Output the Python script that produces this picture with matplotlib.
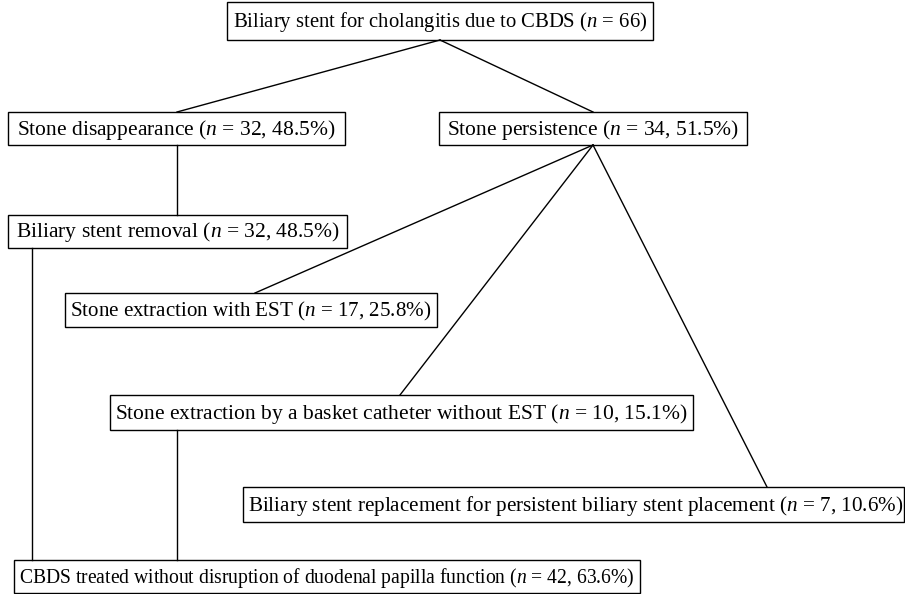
import matplotlib.pyplot as plt
from matplotlib.patches import Rectangle

plt.rcParams['font.family'] = ['Liberation Serif', 'DejaVu Serif']
plt.rcParams['mathtext.fontset'] = 'custom'
plt.rcParams['mathtext.rm'] = 'Liberation Serif'
plt.rcParams['mathtext.it'] = 'Liberation Serif:italic'

# data
labels = [
    "Biliary stent for cholangitis due to CBDS",
    "Stone disappearance",
    "Stone persistence",
    "Biliary stent removal",
    "Stone extraction with EST",
    "Stone extraction by a basket catheter without EST",
    "Biliary stent replacement for persistent biliary stent placement",
    "CBDS treated without disruption of duodenal papilla function",
]
counts = [66, 32, 34, 32, 17, 10, 7, 42]
percents = ["", "48.5%", "51.5%", "48.5%", "25.8%", "15.1%", "10.6%", "63.6%"]
links = [(0, 1), (0, 2), (1, 3), (2, 4), (2, 5), (2, 6)]

# layout (pixels): left, top, right, bottom
boxes = [
    (227, 2, 653, 40),
    (8, 112, 345, 145),
    (439, 112, 747, 145),
    (8, 215, 347, 248),
    (65, 293, 437, 327),
    (110, 395, 693, 430),
    (243, 487, 904, 522),
    (14, 560, 640, 593),
]
# attach points on boxes (x at parent bottom, x at child top)
anchor_top = [440, 177, 593, 177, 255, 400, 767, 0]
anchor_bot = [440, 177, 593, 177, 0, 0, 0, 0]

fig = plt.figure(figsize=(9.05, 5.94), dpi=100)
ax = fig.add_axes([0, 0, 1, 1])
ax.set_xlim(0, 905)
ax.set_ylim(594, 0)
ax.axis('off')
renderer = fig.canvas.get_renderer()

for i, (lab, n, p) in enumerate(zip(labels, counts, percents)):
    l, t, r, b = boxes[i]
    ax.add_patch(Rectangle((l, t), r - l, b - t, fill=False, lw=1.0, ec='black'))
    txt = f"{lab} ($n$ = {n}" + (f", {p})" if p else ")")
    if i == 6:
        tx = ax.text(l + 5, (t + b) / 2 + 1, txt, ha='left', va='center', fontsize=15)
        target = r - l - 6
    else:
        tx = ax.text((l + r) / 2, (t + b) / 2 + 1, txt, ha='center', va='center', fontsize=15)
        target = r - l - 10
    w = tx.get_window_extent(renderer).width
    tx.set_fontsize(min(15.5, 15 * target / w))

for a, c in links:
    ax.plot([anchor_bot[a], anchor_top[c]], [boxes[a][3], boxes[c][1]], color='black', lw=1.0)

# merges into the final box
ax.plot([32, 32], [boxes[3][3], boxes[7][1]], color='black', lw=1.0)
ax.plot([177, 177], [boxes[5][3], boxes[7][1]], color='black', lw=1.0)

fig.savefig('out.png', dpi=100)
